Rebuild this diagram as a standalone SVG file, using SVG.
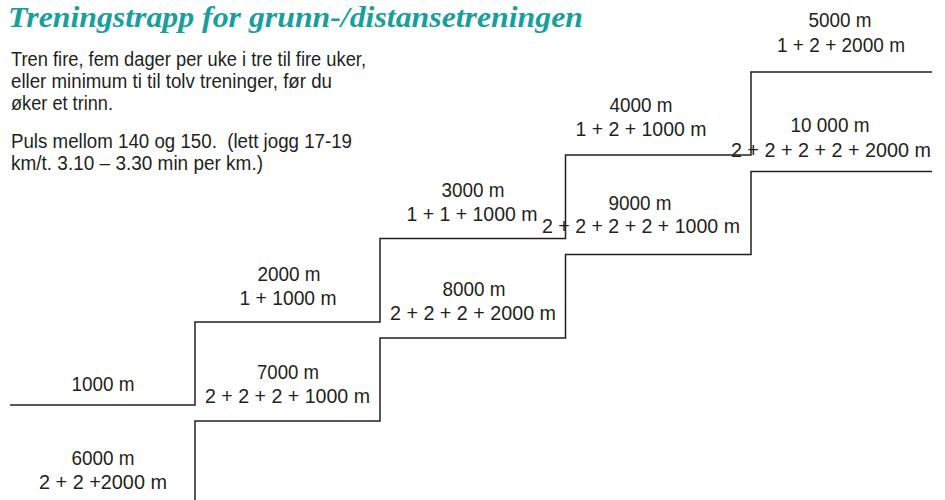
<svg xmlns="http://www.w3.org/2000/svg" width="945" height="500" viewBox="0 0 945 500">
<style>
.title{font-family:"Liberation Serif","Times New Roman",serif;font-weight:bold;font-style:italic;font-size:30px;fill:#17a09b}
.p{font-family:"Liberation Sans",Arial,sans-serif;font-size:20px;fill:#231f20;white-space:pre}
.l{font-family:"Liberation Sans",Arial,sans-serif;font-size:19.5px;fill:#231f20;text-anchor:middle}
.stair{fill:none;stroke:#231f20;stroke-width:1.5}
</style>
<rect width="945" height="500" fill="#ffffff"/>
<text class="title" x="8" y="27" textLength="575" lengthAdjust="spacingAndGlyphs">Treningstrapp for grunn-/distansetreningen</text>
<g id="intro">
<text class="p" x="11" y="66" textLength="355" lengthAdjust="spacingAndGlyphs">Tren fire, fem dager per uke i tre til fire uker,</text>
<text class="p" x="11" y="88" textLength="321" lengthAdjust="spacingAndGlyphs">eller minimum ti til tolv treninger, før du</text>
<text class="p" x="11" y="110" textLength="102" lengthAdjust="spacingAndGlyphs">øker et trinn.</text>
<text class="p" x="11" y="148" textLength="341" lengthAdjust="spacingAndGlyphs">Puls mellom 140 og 150.  (lett jogg 17-19</text>
<text class="p" x="11" y="170" textLength="252" lengthAdjust="spacingAndGlyphs">km/t. 3.10 – 3.30 min per km.)</text>
</g>
<g id="connectors">
<path class="stair" d="M10,405 H195 V322 H380 V238.5 H565.5 V155 H751 V72 H932"/>
<path class="stair" d="M195,500 V421 H380 V338 H565.5 V254.5 H751 V171.5 H932"/>
</g>
<g id="s1000"><text class="l" x="103" y="391" textLength="63" lengthAdjust="spacingAndGlyphs">1000 m</text></g>
<g id="s6000"><text class="l" x="103" y="465" textLength="63" lengthAdjust="spacingAndGlyphs">6000 m</text><text class="l" x="103" y="489" textLength="128" lengthAdjust="spacingAndGlyphs">2 + 2 +2000 m</text></g>
<g id="s2000"><text class="l" x="289" y="281" textLength="63" lengthAdjust="spacingAndGlyphs">2000 m</text><text class="l" x="288" y="305" textLength="97" lengthAdjust="spacingAndGlyphs">1 + 1000 m</text></g>
<g id="s7000"><text class="l" x="288" y="379" textLength="62" lengthAdjust="spacingAndGlyphs">7000 m</text><text class="l" x="287.5" y="403" textLength="165" lengthAdjust="spacingAndGlyphs">2 + 2 + 2 + 1000 m</text></g>
<g id="s3000"><text class="l" x="473" y="197" textLength="63" lengthAdjust="spacingAndGlyphs">3000 m</text><text class="l" x="472" y="221" textLength="131" lengthAdjust="spacingAndGlyphs">1 + 1 + 1000 m</text></g>
<g id="s8000"><text class="l" x="474" y="296" textLength="63" lengthAdjust="spacingAndGlyphs">8000 m</text><text class="l" x="473" y="320" textLength="166" lengthAdjust="spacingAndGlyphs">2 + 2 + 2 + 2000 m</text></g>
<g id="s4000"><text class="l" x="641" y="112" textLength="63" lengthAdjust="spacingAndGlyphs">4000 m</text><text class="l" x="641" y="136" textLength="131" lengthAdjust="spacingAndGlyphs">1 + 2 + 1000 m</text></g>
<g id="s9000"><text class="l" x="640" y="210" textLength="63" lengthAdjust="spacingAndGlyphs">9000 m</text><text class="l" x="641" y="233" textLength="198" lengthAdjust="spacingAndGlyphs">2 + 2 + 2 + 2 + 1000 m</text></g>
<g id="s5000"><text class="l" x="840" y="27" textLength="63" lengthAdjust="spacingAndGlyphs">5000 m</text><text class="l" x="841" y="52" textLength="128" lengthAdjust="spacingAndGlyphs">1 + 2 + 2000 m</text></g>
<g id="s10000"><text class="l" x="830" y="132" textLength="79" lengthAdjust="spacingAndGlyphs">10 000 m</text><text class="l" x="831" y="157" textLength="200" lengthAdjust="spacingAndGlyphs">2 + 2 + 2 + 2 + 2000 m</text></g>
</svg>
